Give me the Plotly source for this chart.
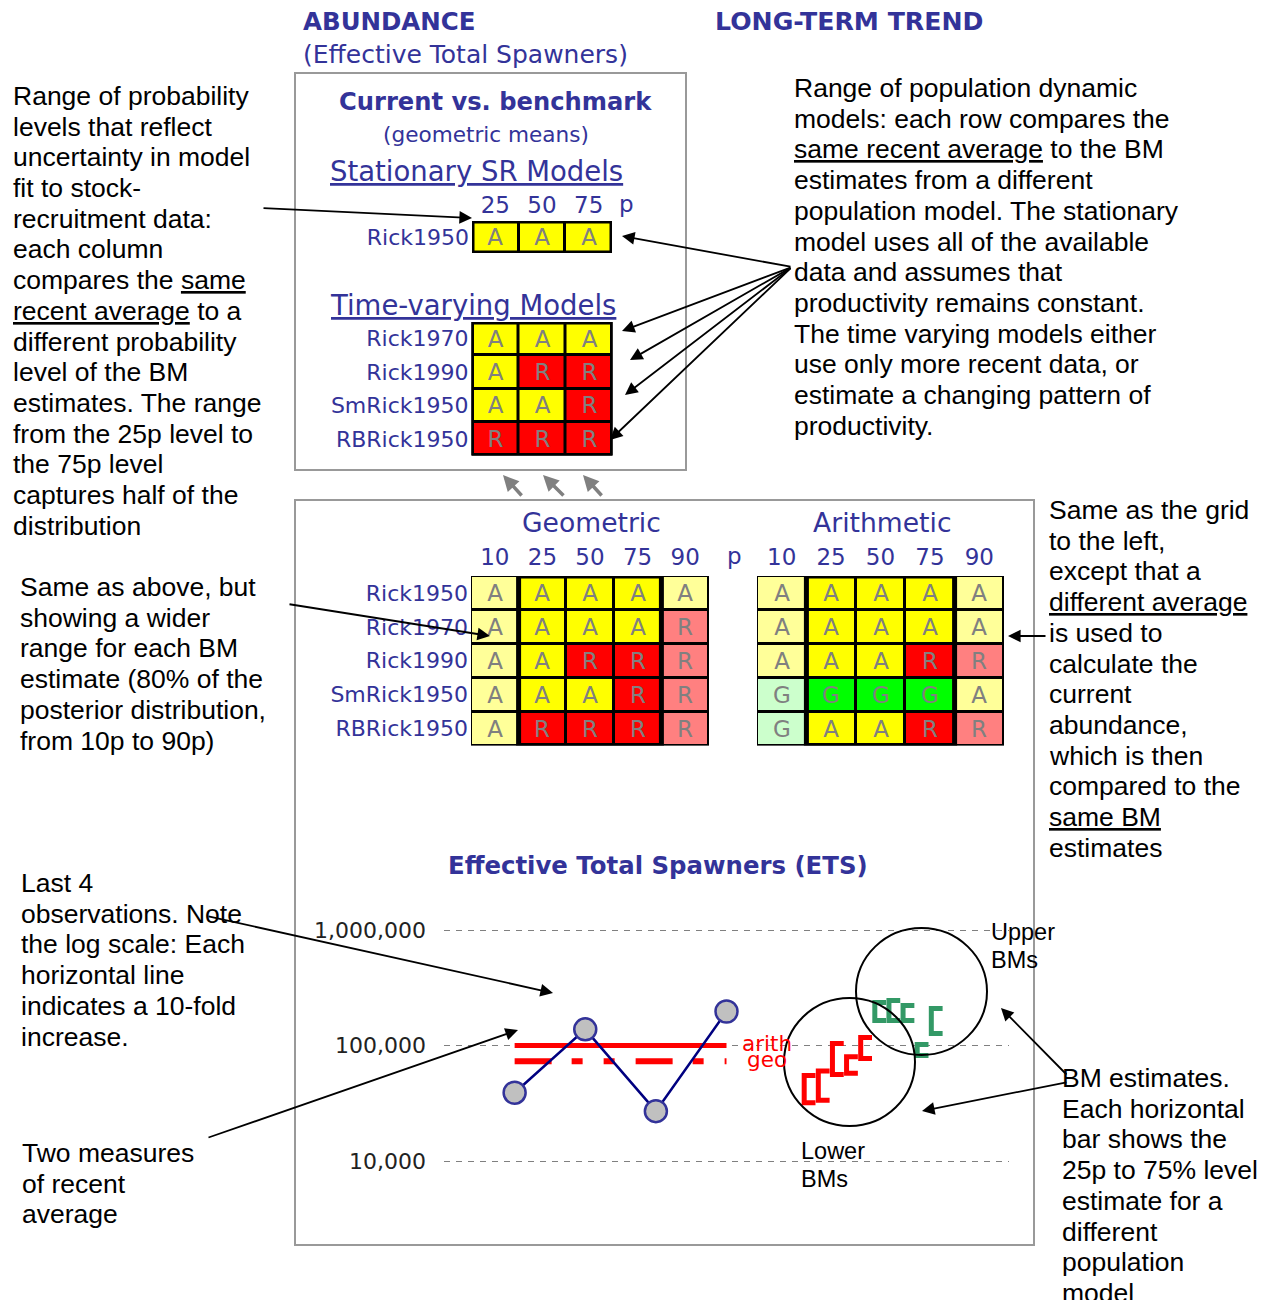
import plotly.graph_objects as go

W, H = 1268, 1300


def px(x):
    return x / W


def py(y):
    return 1 - y / H


# ---------------- data ----------------
STAT_MODELS = ["Rick1950"]
STAT_PCTS = ["25", "50", "75"]
STAT_STATUS = [["A", "A", "A"]]

TV_MODELS = ["Rick1970", "Rick1990", "SmRick1950", "RBRick1950"]
TV_PCTS = ["25", "50", "75"]
TV_STATUS = [["A", "A", "A"],
             ["A", "R", "R"],
             ["A", "A", "R"],
             ["R", "R", "R"]]

ALL_MODELS = ["Rick1950", "Rick1970", "Rick1990", "SmRick1950", "RBRick1950"]
WIDE_PCTS = ["10", "25", "50", "75", "90"]
GEO_STATUS = [["A", "A", "A", "A", "A"],
              ["A", "A", "A", "A", "R"],
              ["A", "A", "R", "R", "R"],
              ["A", "A", "A", "R", "R"],
              ["A", "R", "R", "R", "R"]]
ARITH_STATUS = [["A", "A", "A", "A", "A"],
                ["A", "A", "A", "A", "A"],
                ["A", "A", "A", "R", "R"],
                ["G", "G", "G", "G", "A"],
                ["G", "A", "A", "R", "R"]]
CORE_PCTS = ["25", "50", "75"]

OBS_X = [1, 2, 3, 4]
OBS_ETS = [39000, 138000, 27000, 197000]
ARITH_AVG = 100000
GEO_AVG = 73000

LOWER_BM_X = [5.1, 5.3, 5.5, 5.7, 5.9]
LOWER_BM_P25 = [32000, 33500, 56000, 57500, 77000]
LOWER_BM_P75 = [55000, 60000, 104000, 80000, 117000]
UPPER_BM_X = [6.1, 6.3, 6.5, 6.7, 6.9]
UPPER_BM_P25 = [165000, 165000, 165000, 82000, 127000]
UPPER_BM_P75 = [236000, 245000, 222000, 102000, 209000]

ETS_TICKS = [10000, 100000, 1000000]
ETS_TICK_TEXT = ["10,000", "100,000", "1,000,000"]

# ---------------- styles ----------------
BLUE = "#333399"
FONT_V = "Verdana, DejaVu Sans, sans-serif"
FONT_A = "Arial, Liberation Sans, sans-serif"
STATUS_DARK = {"A": "#FFFF00", "R": "#FF0000", "G": "#00FF00"}
STATUS_LIGHT = {"A": "#FFFF99", "R": "#FF8080", "G": "#CCFFCC"}
PALETTE = [(s, light) for s in ("A", "R", "G") for light in (False, True)]


def pal_color(s, light):
    return STATUS_LIGHT[s] if light else STATUS_DARK[s]


COLORSCALE = []
for i, (s, light) in enumerate(PALETTE):
    c = pal_color(s, light)
    COLORSCALE.append([i / len(PALETTE), c])
    COLORSCALE.append([(i + 1) / len(PALETTE), c])

fig = go.Figure()
shapes = []
annotations = []


def grid(status, models, pcts, n, xdom, ydom, show_cols=True, show_rows=True, col_standoff=2):
    z = []
    for row in status:
        z.append([PALETTE.index((s, p not in CORE_PCTS)) + 0.5 for s, p in zip(row, pcts)])
    xa, ya = "x" + ("" if n == 1 else str(n)), "y" + ("" if n == 1 else str(n))
    fig.add_trace(go.Heatmap(
        z=z, x=pcts, y=models, text=status, texttemplate="%{text}",
        textfont=dict(family=FONT_V, size=23, color="#808080"),
        colorscale=COLORSCALE, zmin=0, zmax=len(PALETTE), showscale=False,
        xgap=3, ygap=3, hoverinfo="skip", xaxis=xa, yaxis=ya))
    ncol, nrow = len(pcts), len(models)
    shapes.append(dict(type="rect", xref=xa, yref=ya, x0=-0.5, x1=ncol - 0.5,
                       y0=-0.5, y1=nrow - 0.5, fillcolor="black",
                       line=dict(color="black", width=3), layer="below"))
    core = [i for i, p in enumerate(pcts) if p in CORE_PCTS]
    shapes.append(dict(type="rect", xref=xa, yref=ya, x0=min(core) - 0.5, x1=max(core) + 0.5,
                       y0=-0.5, y1=nrow - 0.5, line=dict(color="black", width=5),
                       layer="above"))
    axis_common = dict(showgrid=False, zeroline=False, showline=False, ticks="")
    fig.update_layout(**{
        ("xaxis" if n == 1 else "xaxis%d" % n): dict(
            axis_common, type="category", side="top", domain=[px(xdom[0]), px(xdom[1])],
            anchor=ya, range=[-0.5, ncol - 0.5], showticklabels=show_cols,
            tickfont=dict(family=FONT_V, size=23, color=BLUE), ticklabelstandoff=col_standoff),
        ("yaxis" if n == 1 else "yaxis%d" % n): dict(
            axis_common, type="category", domain=[py(ydom[1]), py(ydom[0])],
            anchor=xa, range=[nrow - 0.5, -0.5], showticklabels=show_rows,
            tickfont=dict(family=FONT_V, size=22, color=BLUE), ticklabelstandoff=2),
    })


grid(STAT_STATUS, STAT_MODELS, STAT_PCTS, 1, (472, 612), (221, 253))
grid(TV_STATUS, TV_MODELS, TV_PCTS, 2, (471.5, 612.5), (322, 455.5), show_cols=False)
grid(GEO_STATUS, ALL_MODELS, WIDE_PCTS, 3, (471, 709), (576, 745.5), col_standoff=5)
grid(ARITH_STATUS, ALL_MODELS, WIDE_PCTS, 4, (757, 1004), (576, 745.5), show_rows=False,
     col_standoff=5)

# ---------------- ETS chart ----------------
CAP = 0.16


def bracket_path(xs_, lo_, hi_):
    xs, ys = [], []
    for x, lo, hi in zip(xs_, lo_, hi_):
        xs += [x + CAP, x, x, x + CAP, None]
        ys += [hi, hi, lo, lo, None]
    return xs, ys


fig.add_trace(go.Scatter(x=[OBS_X[0], OBS_X[-1]], y=[ARITH_AVG, ARITH_AVG], mode="lines",
                         line=dict(color="#FF0000", width=5), xaxis="x5", yaxis="y5",
                         hoverinfo="skip"))
fig.add_trace(go.Scatter(x=[OBS_X[0], OBS_X[-1]], y=[GEO_AVG, GEO_AVG], mode="lines",
                         line=dict(color="#FF0000", width=6, dash="37px,20px,11px,21px,11px,21px"),
                         xaxis="x5", yaxis="y5", hoverinfo="skip"))
fig.add_trace(go.Scatter(x=OBS_X, y=OBS_ETS, mode="lines+markers",
                         line=dict(color="#000080", width=2.5),
                         marker=dict(size=22, color="#C0C0C0", line=dict(color=BLUE, width=2.5)),
                         xaxis="x5", yaxis="y5", hoverinfo="skip"))
bx, by = bracket_path(LOWER_BM_X, LOWER_BM_P25, LOWER_BM_P75)
fig.add_trace(go.Scatter(x=bx, y=by, mode="lines", line=dict(color="#FF0000", width=5),
                         xaxis="x5", yaxis="y5", hoverinfo="skip"))
bx, by = bracket_path(UPPER_BM_X, UPPER_BM_P25, UPPER_BM_P75)
fig.add_trace(go.Scatter(x=bx, y=by, mode="lines", line=dict(color="#339966", width=5),
                         xaxis="x5", yaxis="y5", hoverinfo="skip"))

fig.update_layout(
    xaxis5=dict(domain=[px(444), px(1009)], range=[0, 8], anchor="y5", showgrid=False,
                zeroline=False, showline=False, showticklabels=False, ticks=""),
    yaxis5=dict(domain=[py(1241.85), py(883.8)], type="log", range=[3.3, 6.4], anchor="x5",
                tickvals=ETS_TICKS, ticktext=ETS_TICK_TEXT, showgrid=True, griddash="6px,6px",
                gridcolor="#808080", gridwidth=1, zeroline=False, showline=False, ticks="",
                ticklabelstandoff=17, tickfont=dict(family=FONT_V, size=22, color="#222222")),
)

# ---------------- frames & circles ----------------
shapes.append(dict(type="rect", xref="paper", yref="paper", x0=px(295), x1=px(686),
                   y0=py(470), y1=py(73), line=dict(color="#999999", width=2)))
shapes.append(dict(type="rect", xref="paper", yref="paper", x0=px(295), x1=px(1034),
                   y0=py(1245), y1=py(500), line=dict(color="#999999", width=2)))
shapes.append(dict(type="circle", xref="paper", yref="paper", x0=px(856), x1=px(987),
                   y0=py(1055), y1=py(928), line=dict(color="black", width=2)))
shapes.append(dict(type="circle", xref="paper", yref="paper", x0=px(784), x1=px(915),
                   y0=py(1126), y1=py(998), line=dict(color="black", width=2)))


# ---------------- text ----------------
def add_text(txt, x, y, size, color="black", family=FONT_A, xanchor="left"):
    annotations.append(dict(text=txt, x=px(x), y=py(y), xref="paper", yref="paper",
                            xanchor=xanchor, yanchor="middle", showarrow=False,
                            font=dict(size=size, color=color, family=family)))


def add_block(lines, x, y0, dy=30.7, size=26.5):
    for i, line in enumerate(lines):
        add_text(line, x, y0 + i * dy, size)


def add_arrow(tail, head, color="black", width=1.8, size=1.4, style=2):
    annotations.append(dict(x=px(head[0]), y=py(head[1]), xref="paper", yref="paper",
                            ax=tail[0] - head[0], ay=tail[1] - head[1], axref="pixel",
                            ayref="pixel", text="", showarrow=True, arrowhead=style,
                            arrowsize=size, arrowwidth=width, arrowcolor=color, standoff=0))


add_text("<b>ABUNDANCE</b>", 301, 21, 24.5, BLUE, FONT_V)
add_text("(Effective Total Spawners)", 301, 55, 25, BLUE, FONT_V)
add_text("<b>LONG-TERM TREND</b>", 713, 21.5, 25.2, BLUE, FONT_V)
add_text("<b>Current vs. benchmark</b>", 495.5, 102, 24.2, BLUE, FONT_V, "center")
add_text("(geometric means)", 486, 135, 21.6, BLUE, FONT_V, "center")
add_text("<u>Stationary SR Models</u>", 328, 170.5, 27.5, BLUE, FONT_V)
add_text("p", 626, 204, 23, BLUE, FONT_V, "center")
add_text("<u>Time-varying Models</u>", 328, 304.5, 27.5, BLUE, FONT_V)
add_text("Geometric", 591, 522.5, 26.6, BLUE, FONT_V, "center")
add_text("Arithmetic", 882, 522.5, 26.6, BLUE, FONT_V, "center")
add_text("p", 735, 556, 23, BLUE, FONT_V, "center")
add_text("<b>Effective Total Spawners (ETS)</b>", 657.5, 865.6, 24.4, BLUE, FONT_V, "center")
add_text("arith", 740, 1043.4, 21.5, "#FF0000", FONT_V)
add_text("geo", 745, 1059.4, 21.5, "#FF0000", FONT_V)
add_text("Upper", 989, 932, 23.5)
add_text("BMs", 989, 960, 23.5)
add_text("Lower", 799, 1151, 23.5)
add_text("BMs", 799, 1179, 23.5)

add_block(["Range of probability", "levels that reflect", "uncertainty in model",
           "fit to stock-", "recruitment data:", "each column", "compares the <u>same</u>",
           "<u>recent average</u> to a", "different probability", "level of the BM",
           "estimates. The range", "from the 25p level to", "the 75p level",
           "captures half of the", "distribution"], 11, 96)
add_block(["Range of population dynamic", "models: each row compares the",
           "<u>same recent average</u> to the BM", "estimates from a different",
           "population model. The stationary", "model uses all of the available",
           "data and assumes that", "productivity remains constant.",
           "The time varying models either", "use only more recent data, or",
           "estimate a changing pattern of", "productivity."], 792, 88)
add_block(["Same as the grid", "to the left,", "except that a", "<u>different average</u>",
           "is used to", "calculate the", "current", "abundance,", "which is then",
           "compared to the", "<u>same BM</u>", "estimates"], 1047, 510)
add_block(["Same as above, but", "showing a wider", "range for each BM",
           "estimate (80% of the", "posterior distribution,", "from 10p to 90p)"], 18, 587)
add_block(["Last 4", "observations. Note", "the log scale: Each", "horizontal line",
           "indicates a 10-fold", "increase."], 19, 883)
add_block(["Two measures", "of recent", "average"], 20, 1153)
add_block(["BM estimates.", "Each horizontal", "bar shows the", "25p to 75% level",
           "estimate for a", "different", "population", "model"], 1060, 1078)

# ---------------- arrows ----------------
add_arrow((262, 208), (472, 218))
for head in [(622, 236), (622, 331), (630, 360), (625, 395), (610, 440)]:
    add_arrow((792, 267), head)
add_arrow((288, 604), (490, 636))
add_arrow((1047, 636), (1008, 636))
add_arrow((207, 916), (553, 993))
add_arrow((207, 1138), (518, 1030))
add_arrow((1068, 1076), (1001, 1008))
add_arrow((1068, 1082), (922, 1111))
for tail, head in [((523, 497), (503, 475)), ((565, 497), (543, 475)), ((603, 497), (583, 475))]:
    add_arrow(tail, head, color="#808080", width=3.5, size=0.9)

fig.update_layout(
    width=W, height=H, autosize=False, margin=dict(l=0, r=0, t=0, b=0, pad=0),
    paper_bgcolor="white", plot_bgcolor="rgba(0,0,0,0)", showlegend=False,
    shapes=shapes, annotations=annotations,
)

fig.write_html("out.html")
